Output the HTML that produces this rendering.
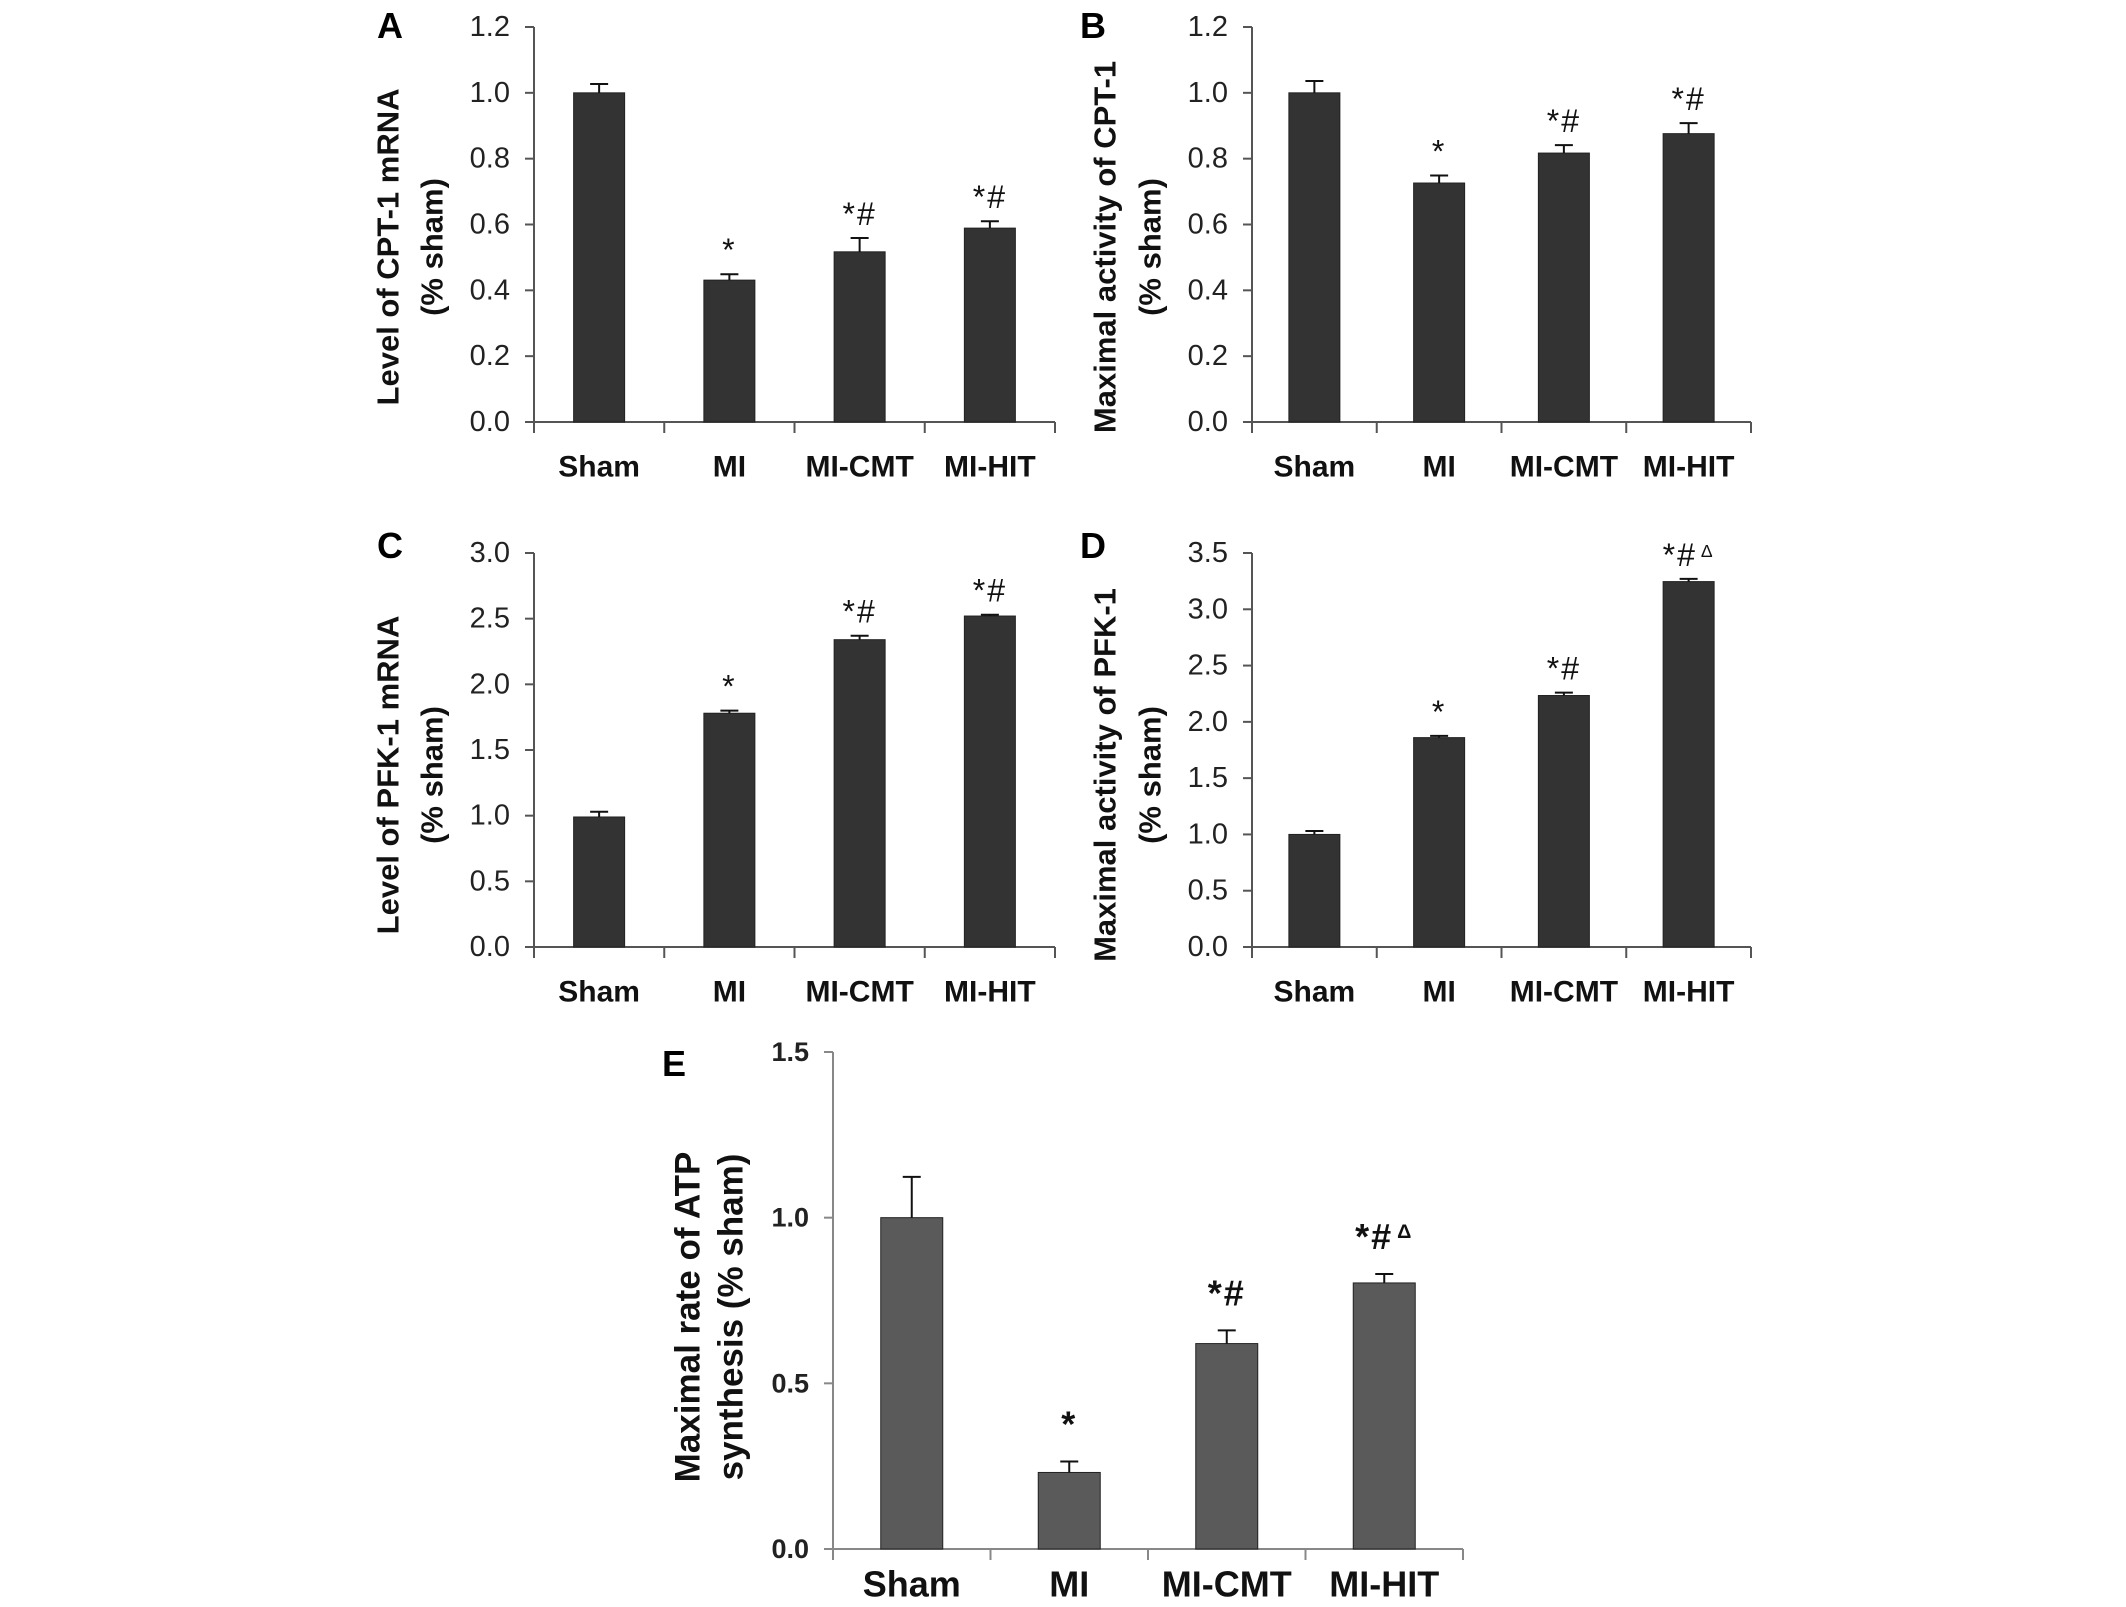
<!DOCTYPE html>
<html><head><meta charset="utf-8"><style>
html,body{margin:0;padding:0;background:#fff;}
svg{display:block;}
</style></head><body>
<svg id="fig" width="2126" height="1607" viewBox="0 0 2126 1607" xmlns="http://www.w3.org/2000/svg"></svg>
<script>
const categories = ["Sham","MI","MI-CMT","MI-HIT"];
const valuesA = [1.0, 0.431, 0.517, 0.589];
const errorsA = [1.027, 0.449, 0.559, 0.61];
const marksA = ["", "*", "*#", "*#"];
const ticksA = [0.0,0.2,0.4,0.6,0.8,1.0,1.2];
const valuesB = [1.0, 0.726, 0.817, 0.876];
const errorsB = [1.036, 0.749, 0.841, 0.908];
const marksB = ["", "*", "*#", "*#"];
const ticksB = [0.0,0.2,0.4,0.6,0.8,1.0,1.2];
const valuesC = [0.99, 1.78, 2.34, 2.52];
const errorsC = [1.03, 1.80, 2.37, 2.53];
const marksC = ["", "*", "*#", "*#"];
const ticksC = [0.0,0.5,1.0,1.5,2.0,2.5,3.0];
const valuesD = [1.0, 1.86, 2.234, 3.246];
const errorsD = [1.03, 1.875, 2.26, 3.27];
const marksD = ["", "*", "*#", "*#\u0394"];
const ticksD = [0.0,0.5,1.0,1.5,2.0,2.5,3.0,3.5];
const valuesE = [1.0, 0.231, 0.62, 0.803];
const errorsE = [1.123, 0.264, 0.66, 0.83];
const marksE = ["", "*", "*#", "*#\u0394"];
const ticksE = [0.0,0.5,1.0,1.5];

const NS = "http://www.w3.org/2000/svg";
const svg = document.getElementById("fig");
function mk(tag, attrs, parent, text){
  const e = document.createElementNS(NS, tag);
  for (const k in attrs) e.setAttribute(k, attrs[k]);
  if (text !== undefined) e.textContent = text;
  (parent||svg).appendChild(e);
  return e;
}

function panel(p){
  const g = mk("g", {});
  
  
  const ymax = p.ticks[p.ticks.length-1];
  const yScale = v => p.y0 - (v/ymax)*(p.y0 - p.yTop);
  const cw = (p.x1 - p.x0)/categories.length;
  const xC = i => p.x0 + cw*(i+0.5);
  const ff = p.ffam;
  const ya = mk("line",{x1:p.x0,y1:p.yTop,x2:p.x0,y2:p.y0+11,stroke:p.axis,"stroke-width":2},g);
  
  
  const xa = mk("line",{x1:p.x0-9,y1:p.y0,x2:p.x1,y2:p.y0,stroke:p.axis,"stroke-width":2},g);
  
  
  for (let i=1;i<=categories.length;i++){
    const x = p.x0 + cw*i;
    const t = mk("line",{x1:x,y1:p.y0,x2:x,y2:p.y0+11,stroke:p.axis,"stroke-width":2},g);
    
    
  }
  p.ticks.forEach(v=>{
    const y = yScale(v);
    const t = mk("line",{x1:p.x0-9,y1:y,x2:p.x0,y2:y,stroke:p.axis,"stroke-width":2},g);
    
    
    const l = mk("text",{x:p.x0-24,y:y,"text-anchor":"end","dominant-baseline":"central","font-family":ff,"font-size":p.tickFs,"font-weight":p.tickFw,fill:"#222"},g,v.toFixed(1));
    
    
  });
  categories.forEach((c,i)=>{
    const x = xC(i);
    const top = yScale(p.values[i]);
    const b = mk("rect",{x:x-p.bw/2,y:top,width:p.bw,height:p.y0-top,fill:p.color,stroke:"#222","stroke-width":1},g);
    
    
    const et = yScale(p.errors[i]);
    const e1 = mk("line",{x1:x,y1:top,x2:x,y2:et,stroke:"#111","stroke-width":2},g);
    
    
    const e2 = mk("line",{x1:x-9,y1:et,x2:x+9,y2:et,stroke:"#111","stroke-width":2},g);
    
    
    if (p.marks[i]){
      const m = mk("text",{x:x,y:et-p.markOff,"text-anchor":"middle","dominant-baseline":"central","font-family":ff,"font-size":p.markFs,"font-weight":p.markFw,fill:"#111","letter-spacing":"2"},g);
      
      
      const s = p.marks[i];
      const main = s.replace("\u0394","");
      mk("tspan",{},m,main);
      if (s.indexOf("\u0394")>=0) mk("tspan",{"font-size":p.markFs*0.55,dx:4,dy:-4},m,"\u0394");
    }
    const cl = mk("text",{x:x,y:p.catY,"text-anchor":"middle","dominant-baseline":"central","font-family":ff,"font-size":p.catFs,"font-weight":"bold",fill:"#111"},g,c);
    
    
  });
  const tg = mk("text",{transform:`translate(${p.t1x},${p.tcy}) rotate(-90)`,"text-anchor":"middle","dominant-baseline":"central","font-family":ff,"font-size":p.titleFs,"font-weight":"bold",fill:"#111"},g,p.title1);
  
  
  const tg2 = mk("text",{transform:`translate(${p.t2x},${p.tcy}) rotate(-90)`,"text-anchor":"middle","dominant-baseline":"central","font-family":ff,"font-size":p.titleFs,"font-weight":"bold",fill:"#111","xml:space":"preserve"},g,p.title2);
  
  
  const lt = mk("text",{x:p.lx,y:p.ly,"text-anchor":"middle","font-family":"Liberation Sans, sans-serif","font-size":p.letterFs,"font-weight":"bold",fill:"#000"},g,p.letter);
  
  
}

const F = "Liberation Sans, sans-serif";
const common = {ffam:F, axis:"#555", color:"#333", bw:51, tickFs:29, tickFw:"normal", markFs:32, markFw:"normal", markOff:24, catFs:30, titleFs:31, letterFs:36};
panel(Object.assign({}, common, {letter:"A", x0:534, x1:1055, yTop:27, y0:422, values:valuesA, errors:errorsA, marks:marksA, ticks:ticksA, catY:467, t1x:388, t2x:432, tcy:247, title1:"Level of CPT-1 mRNA", title2:"(%  sham)", lx:390, ly:38}));
panel(Object.assign({}, common, {letter:"B", x0:1252, x1:1751, yTop:27, y0:422, values:valuesB, errors:errorsB, marks:marksB, ticks:ticksB, catY:467, t1x:1105, t2x:1150, tcy:247, title1:"Maximal activity of CPT-1", title2:"(%  sham)", lx:1093, ly:38}));
panel(Object.assign({}, common, {letter:"C", x0:534, x1:1055, yTop:553, y0:947, values:valuesC, errors:errorsC, marks:marksC, ticks:ticksC, catY:992, t1x:388, t2x:432, tcy:775, title1:"Level of PFK-1 mRNA", title2:"(%  sham)", lx:390, ly:558}));
panel(Object.assign({}, common, {letter:"D", x0:1252, x1:1751, yTop:553, y0:947, values:valuesD, errors:errorsD, marks:marksD, ticks:ticksD, catY:992, t1x:1105, t2x:1150, tcy:775, title1:"Maximal activity of PFK-1", title2:"(%  sham)", lx:1093, ly:558}));
panel(Object.assign({}, common, {letter:"E", x0:833, x1:1463, yTop:1052, y0:1549, values:valuesE, errors:errorsE, marks:marksE, ticks:ticksE, color:"#5a5a5a", axis:"#888", bw:62, tickFs:27, tickFw:"bold", markFs:36, markFw:"bold", markOff:38, catY:1584, catFs:36, titleFs:35, t1x:688, t2x:731, tcy:1317, title1:"Maximal rate of ATP", title2:"synthesis (% sham)", lx:674, ly:1076}));
</script>
</body></html>
